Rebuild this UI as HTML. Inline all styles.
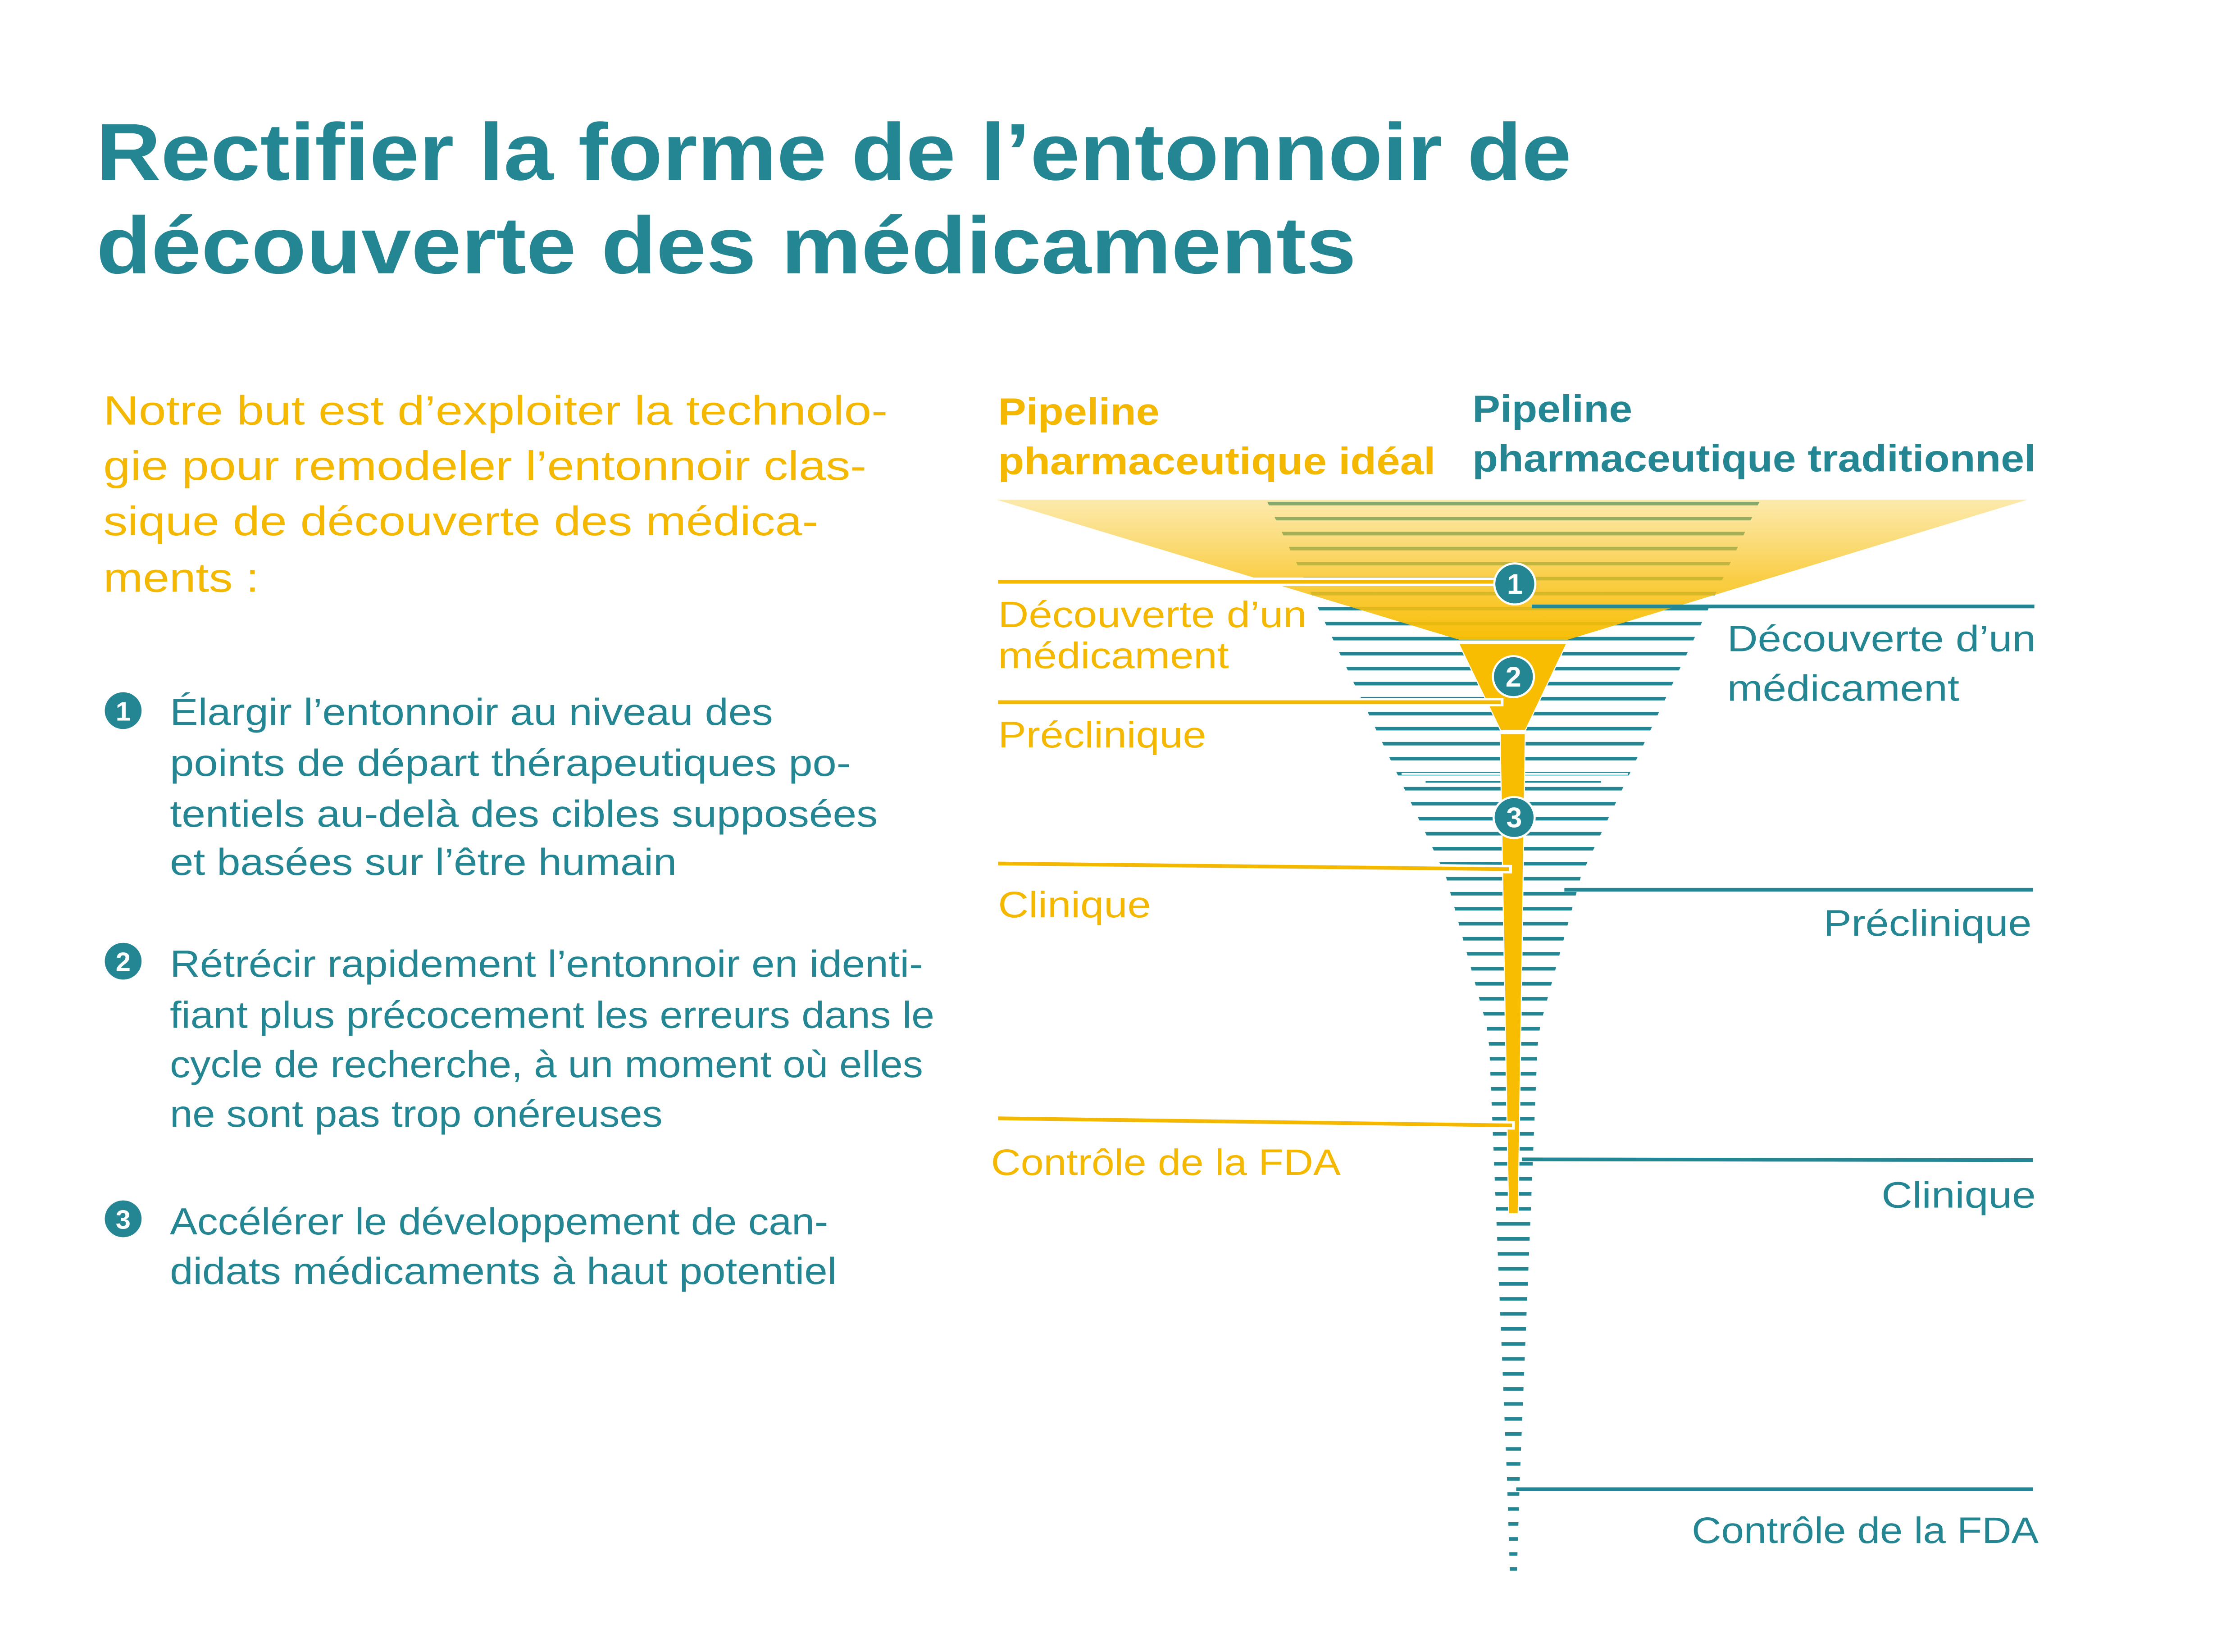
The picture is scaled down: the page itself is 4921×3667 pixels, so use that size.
<!DOCTYPE html>
<html><head><meta charset="utf-8"><style>
html,body{margin:0;padding:0;background:#fff;}
svg{display:block;}
.t{font-family:"Liberation Sans",sans-serif;}
</style></head><body>
<svg width="4921" height="3667" viewBox="0 0 1566 1167" preserveAspectRatio="none" xmlns="http://www.w3.org/2000/svg">
<defs>
<linearGradient id="yg" x1="0" y1="353" x2="0" y2="452" gradientUnits="userSpaceOnUse">
<stop offset="0" stop-color="#f9cf45" stop-opacity="0.45"/>
<stop offset="0.55" stop-color="#f8c21a" stop-opacity="0.8"/>
<stop offset="1" stop-color="#f8bd00" stop-opacity="0.97"/>
</linearGradient>
<pattern id="stripes" patternUnits="userSpaceOnUse" x="0" y="354.5" width="20" height="10.6">
<rect x="0" y="0" width="20" height="2.5" fill="#238692"/>
</pattern>
<clipPath id="fc">
<polygon points="894,352 1244,352 1117,618 1088,724 1086,740 1073.5,1045 1071.5,1110 1066.5,1110 1064.5,1045 1052,740 1050,724 1021,618"/>
</clipPath>
</defs>

<!-- Title -->
<g class="t" font-weight="bold" fill="#238692" font-size="57">
<text x="68" y="127" textLength="1042" lengthAdjust="spacingAndGlyphs">Rectifier la forme de l’entonnoir de</text>
<text x="68" y="193" textLength="890" lengthAdjust="spacingAndGlyphs">découverte des médicaments</text>
</g>

<!-- Intro -->
<g class="t" fill="#f5b800" font-size="29">
<text x="73" y="300" textLength="554" lengthAdjust="spacingAndGlyphs">Notre but est d’exploiter la technolo-</text>
<text x="73" y="339" textLength="539" lengthAdjust="spacingAndGlyphs">gie pour remodeler l’entonnoir clas-</text>
<text x="73" y="378" textLength="505" lengthAdjust="spacingAndGlyphs">sique de découverte des médica-</text>
<text x="73" y="418" textLength="110" lengthAdjust="spacingAndGlyphs">ments :</text>
</g>

<!-- Items -->
<g fill="#238692">
<circle cx="87" cy="502" r="13"/><circle cx="87" cy="679" r="13"/><circle cx="87" cy="861" r="13"/>
</g>
<g class="t" fill="#fff" font-weight="bold" font-size="19" text-anchor="middle">
<text x="87" y="509">1</text><text x="87" y="686">2</text><text x="87" y="868">3</text>
</g>
<g class="t" fill="#238692" font-size="26.5">
<text x="120" y="512" textLength="426" lengthAdjust="spacingAndGlyphs">Élargir l’entonnoir au niveau des</text>
<text x="120" y="548" textLength="481" lengthAdjust="spacingAndGlyphs">points de départ thérapeutiques po-</text>
<text x="120" y="584" textLength="500" lengthAdjust="spacingAndGlyphs">tentiels au-delà des cibles supposées</text>
<text x="120" y="618" textLength="358" lengthAdjust="spacingAndGlyphs">et basées sur l’être humain</text>
<text x="120" y="690" textLength="532" lengthAdjust="spacingAndGlyphs">Rétrécir rapidement l’entonnoir en identi-</text>
<text x="120" y="726" textLength="540" lengthAdjust="spacingAndGlyphs">fiant plus précocement les erreurs dans le</text>
<text x="120" y="761" textLength="532" lengthAdjust="spacingAndGlyphs">cycle de recherche, à un moment où elles</text>
<text x="120" y="796" textLength="348" lengthAdjust="spacingAndGlyphs">ne sont pas trop onéreuses</text>
<text x="120" y="872" textLength="465" lengthAdjust="spacingAndGlyphs">Accélérer le développement de can-</text>
<text x="120" y="907" textLength="471" lengthAdjust="spacingAndGlyphs">didats médicaments à haut potentiel</text>
</g>

<!-- Headers -->
<g class="t" font-weight="bold" font-size="27">
<text x="705" y="300" fill="#f5b800" textLength="114" lengthAdjust="spacingAndGlyphs">Pipeline</text>
<text x="705" y="335" fill="#f5b800" textLength="309" lengthAdjust="spacingAndGlyphs">pharmaceutique idéal</text>
<text x="1040" y="298" fill="#238692" textLength="113" lengthAdjust="spacingAndGlyphs">Pipeline</text>
<text x="1040" y="333" fill="#238692" textLength="398" lengthAdjust="spacingAndGlyphs">pharmaceutique traditionnel</text>
</g>

<!-- Teal funnel stripes -->
<rect x="880" y="340" width="380" height="780" fill="url(#stripes)" clip-path="url(#fc)"/>
<!-- thin rows -->
<g fill="#fff">
<rect x="990" y="546" width="160" height="1.3"/>
<rect x="1040" y="731" width="60" height="1.3"/>
<rect x="1040" y="742" width="60" height="1.3"/>
</g>
<g stroke="#238692" stroke-width="1.2">
<line x1="1007" y1="552.3" x2="1131" y2="552.3"/>
</g>

<!-- Yellow funnel -->
<polygon points="704,353 1432,353 1107,452 1031,452" fill="url(#yg)"/>
<polygon points="1031,455 1106,455 1077.2,515.6 1060.2,515.6" fill="#f8bd00" stroke="#fff" stroke-width="1.5" paint-order="stroke"/>
<polygon points="1060,518.6 1077,518.6 1072,857 1066,857" fill="#f8bd00" stroke="#fff" stroke-width="1.5" paint-order="stroke"/>

<!-- Yellow connector lines -->
<g stroke-linecap="butt">
<line x1="705" y1="411" x2="1062" y2="411" stroke="#fff" stroke-width="6"/>
<line x1="705" y1="411" x2="1060" y2="411" stroke="#f5b800" stroke-width="2.6"/>
<line x1="705" y1="496" x2="1062" y2="496" stroke="#fff" stroke-width="6"/>
<line x1="705" y1="496" x2="1060" y2="496" stroke="#f5b800" stroke-width="2.6"/>
<line x1="705" y1="610" x2="1068" y2="614" stroke="#fff" stroke-width="6"/>
<line x1="705" y1="610" x2="1066" y2="614" stroke="#f5b800" stroke-width="2.6"/>
<line x1="705" y1="790" x2="1070" y2="795" stroke="#fff" stroke-width="6"/>
<line x1="705" y1="790" x2="1068" y2="795" stroke="#f5b800" stroke-width="2.6"/>
</g>

<!-- Teal connector lines -->
<g stroke="#238692" stroke-width="2.6">
<line x1="1082" y1="428.4" x2="1437" y2="428.4"/>
<line x1="1105" y1="628.5" x2="1436" y2="628.5"/>
<line x1="1075" y1="819" x2="1436" y2="819.5"/>
<line x1="1071" y1="1052" x2="1436" y2="1052"/>
</g>

<!-- Number circles in funnel -->
<g fill="#238692" stroke="#fff" stroke-width="1.5">
<circle cx="1070" cy="412.5" r="14.5"/>
<circle cx="1069" cy="478" r="14.5"/>
<circle cx="1069.5" cy="577.5" r="14.5"/>
</g>
<g class="t" fill="#fff" font-weight="bold" font-size="20" text-anchor="middle">
<text x="1070" y="419.5">1</text><text x="1069" y="485">2</text><text x="1069.5" y="584.5">3</text>
</g>

<!-- Yellow stage labels -->
<g class="t" fill="#f5b800" font-size="26">
<text x="705" y="443" textLength="218" lengthAdjust="spacingAndGlyphs">Découverte d’un</text>
<text x="705" y="472" textLength="163" lengthAdjust="spacingAndGlyphs">médicament</text>
<text x="705" y="528" textLength="147" lengthAdjust="spacingAndGlyphs">Préclinique</text>
<text x="705" y="648" textLength="108" lengthAdjust="spacingAndGlyphs">Clinique</text>
<text x="700" y="830" textLength="247" lengthAdjust="spacingAndGlyphs">Contrôle de la FDA</text>
</g>

<!-- Teal stage labels -->
<g class="t" fill="#238692" font-size="26">
<text x="1220" y="460" textLength="218" lengthAdjust="spacingAndGlyphs">Découverte d’un</text>
<text x="1220" y="495" textLength="164" lengthAdjust="spacingAndGlyphs">médicament</text>
<text x="1288" y="661" textLength="147" lengthAdjust="spacingAndGlyphs">Préclinique</text>
<text x="1329" y="853" textLength="109" lengthAdjust="spacingAndGlyphs">Clinique</text>
<text x="1195" y="1090" textLength="245" lengthAdjust="spacingAndGlyphs">Contrôle de la FDA</text>
</g>
</svg>
</body></html>
